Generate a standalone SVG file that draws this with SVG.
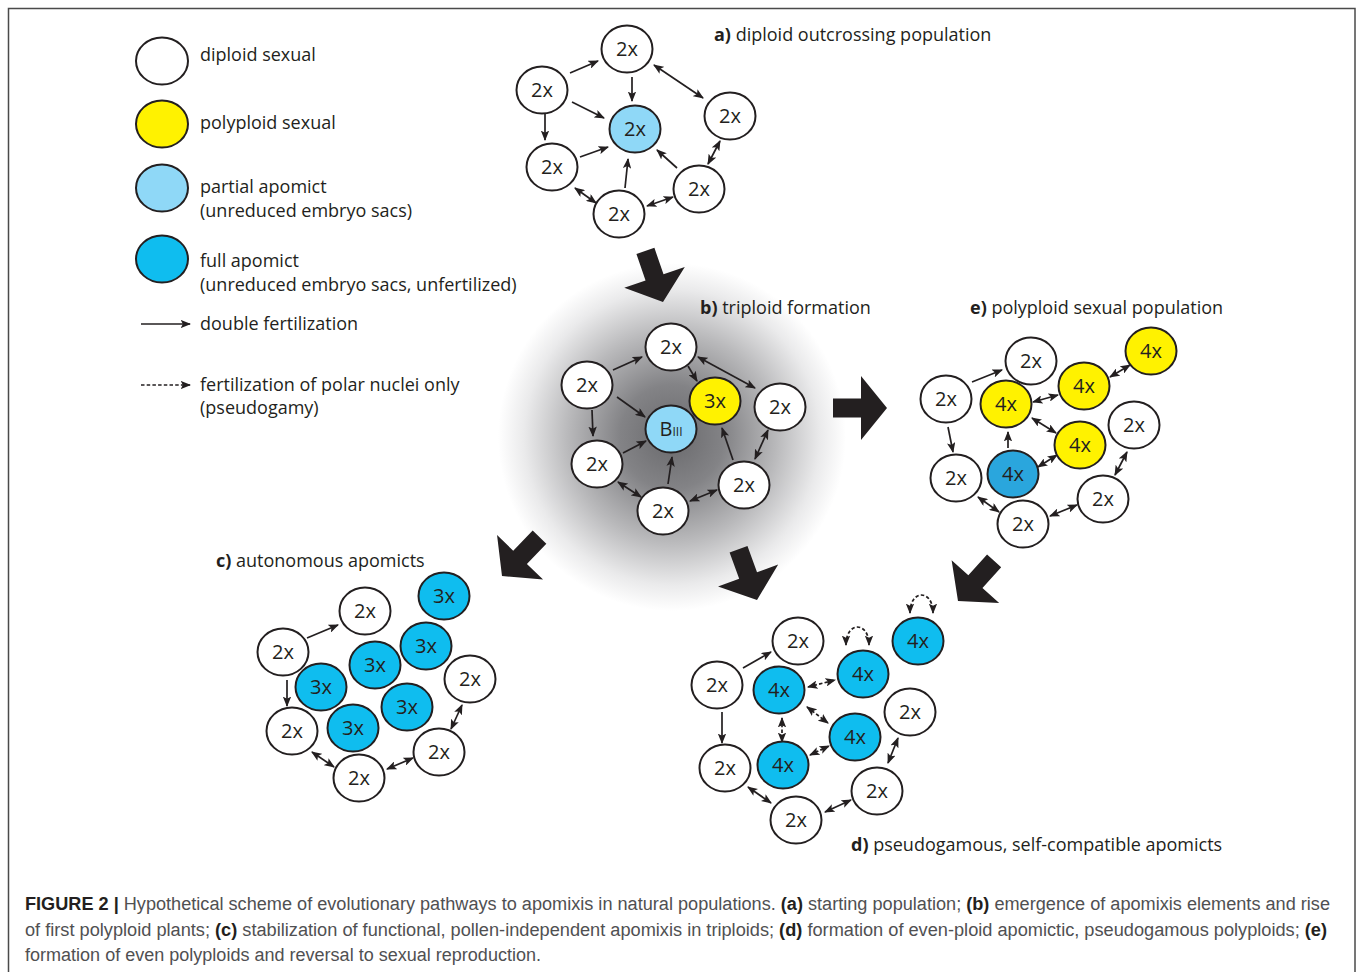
<svg xmlns="http://www.w3.org/2000/svg" width="1358" height="972" viewBox="0 0 1358 972">
<style>
.n ellipse{stroke:#231f20;stroke-width:2}
.w{fill:#ffffff}.y{fill:#fff200}.lb{fill:#8fd8f7}.fb{fill:#0fbdef}.db{fill:#2aa6dd}
.n text{font-family:"Open Sans","Noto Sans",sans-serif;font-size:20px;fill:#231f20;text-anchor:middle}
.lg{font-family:"Open Sans","Noto Sans",sans-serif;font-size:18px;fill:#231f20}
.b{font-weight:700}
.c line,.c path{stroke:#231f20;stroke-width:1.7;fill:none}
.s{marker-end:url(#ah)}
.d{marker-start:url(#ah);marker-end:url(#ah)}
.ds{stroke-dasharray:3.5 2.2}
.cap{font-family:"Liberation Sans",Arial,sans-serif;font-size:18px;fill:#505052}
.capb{font-weight:700;fill:#231f20}
</style>
<defs>
<marker id="ah" viewBox="0 0 10 8" refX="9" refY="4" markerWidth="10.5" markerHeight="8.4" markerUnits="userSpaceOnUse" orient="auto-start-reverse">
<path d="M0,0 L10,4 L0,8 L2.2,4 z" fill="#231f20"/>
</marker>
<radialGradient id="halo" cx="672" cy="437" r="174" gradientUnits="userSpaceOnUse">
<stop offset="0" stop-color="#69696c"/>
<stop offset="0.3" stop-color="#838386"/>
<stop offset="0.6" stop-color="#b9b9bb"/>
<stop offset="0.85" stop-color="#eaeaeb"/>
<stop offset="1" stop-color="#ffffff"/>
</radialGradient>
<polygon id="big" points="-54,-9.5 -26,-9.5 -26,-32 0,0 -26,32 -26,9.5 -54,9.5" fill="#231f20"/>
</defs>
<rect x="0" y="0" width="1358" height="972" fill="#ffffff"/>
<rect x="8.5" y="8.5" width="1346.5" height="1000" fill="none" stroke="#4a4a4a" stroke-width="1.5"/>

<circle cx="672" cy="437" r="174" fill="url(#halo)"/>

<!-- legend -->
<g id="legend">
<g class="n"><ellipse cx="162" cy="61" rx="26" ry="23.5" class="w"/></g>
<g class="n"><ellipse cx="162" cy="124" rx="26" ry="23.5" class="y"/></g>
<g class="n"><ellipse cx="162" cy="188" rx="26" ry="23.5" class="lb"/></g>
<g class="n"><ellipse cx="162" cy="259" rx="26" ry="23.5" class="fb"/></g>
<text class="lg" x="200" y="61">diploid sexual</text>
<text class="lg" x="200" y="129">polyploid sexual</text>
<text class="lg" x="200" y="193">partial apomict</text>
<text class="lg" x="200" y="217">(unreduced embryo sacs)</text>
<text class="lg" x="200" y="267">full apomict</text>
<text class="lg" x="200" y="291">(unreduced embryo sacs, unfertilized)</text>
<text class="lg" x="200" y="330">double fertilization</text>
<text class="lg" x="200" y="391">fertilization of polar nuclei only</text>
<text class="lg" x="200" y="414">(pseudogamy)</text>
<g class="c"><line x1="141" y1="324" x2="190" y2="324" class="s"/><line x1="141" y1="385" x2="190" y2="385" class="s ds"/></g>
</g>

<!-- panel labels -->
<text class="lg" x="714" y="41"><tspan class="b">a)</tspan> diploid outcrossing population</text>
<text class="lg" x="700" y="314"><tspan class="b">b)</tspan> triploid formation</text>
<text class="lg" x="970" y="314"><tspan class="b">e)</tspan> polyploid sexual population</text>
<text class="lg" x="216" y="567"><tspan class="b">c)</tspan> autonomous apomicts</text>
<text class="lg" x="851" y="851"><tspan class="b">d)</tspan> pseudogamous, self-compatible apomicts</text>

<!-- big arrows -->
<g id="bigarrows">
<use href="#big" transform="translate(663,302) rotate(71)"/>
<use href="#big" transform="translate(887,408)"/>
<use href="#big" transform="translate(502,576) rotate(134)"/>
<use href="#big" transform="translate(757,600) rotate(70)"/>
<use href="#big" transform="translate(958,601) rotate(132)"/>
</g>

<!-- connectors -->
<g id="connectors" class="c">
<!-- a -->
<line x1="570" y1="73" x2="598" y2="61" class="s"/>
<line x1="632" y1="77" x2="632" y2="101" class="s"/>
<line x1="572" y1="102" x2="604" y2="118" class="s"/>
<line x1="545" y1="112" x2="545" y2="140" class="s"/>
<line x1="580" y1="157" x2="608" y2="147" class="s"/>
<line x1="625" y1="188" x2="628" y2="159" class="s"/>
<line x1="677" y1="168" x2="657" y2="150" class="s"/>
<line x1="654" y1="65" x2="703" y2="98" class="d"/>
<line x1="720" y1="141" x2="708" y2="164" class="d"/>
<line x1="575" y1="188" x2="596" y2="203" class="d"/>
<line x1="647" y1="206" x2="673" y2="197" class="d"/>
<!-- b -->
<line x1="613" y1="370" x2="642" y2="357" class="s"/>
<line x1="688" y1="366" x2="697" y2="381" class="s"/>
<line x1="617" y1="397" x2="645" y2="417" class="s"/>
<line x1="592" y1="410" x2="593" y2="436" class="s"/>
<line x1="623" y1="453" x2="646" y2="441" class="s"/>
<line x1="668" y1="484" x2="672" y2="457" class="s"/>
<line x1="733" y1="460" x2="722" y2="428" class="s"/>
<line x1="698" y1="357" x2="755" y2="388" class="d"/>
<line x1="768" y1="430" x2="755" y2="459" class="d"/>
<line x1="618" y1="482" x2="641" y2="497" class="d"/>
<line x1="690" y1="501" x2="717" y2="490" class="d"/>
<!-- e -->
<line x1="972" y1="382" x2="1002" y2="370" class="s"/>
<line x1="948" y1="427" x2="953" y2="452" class="s"/>
<line x1="1008" y1="448" x2="1008" y2="432" class="s"/>
<line x1="1033" y1="402" x2="1058" y2="395" class="d"/>
<line x1="1110" y1="377" x2="1130" y2="365" class="d"/>
<line x1="1032" y1="418" x2="1056" y2="433" class="d"/>
<line x1="1038" y1="467" x2="1057" y2="455" class="d"/>
<line x1="1127" y1="452" x2="1115" y2="475" class="d"/>
<line x1="978" y1="497" x2="999" y2="512" class="d"/>
<line x1="1050" y1="516" x2="1077" y2="505" class="d"/>
<!-- c -->
<line x1="307" y1="638" x2="338" y2="625" class="s"/>
<line x1="287" y1="680" x2="287" y2="706" class="s"/>
<line x1="462" y1="705" x2="451" y2="729" class="d"/>
<line x1="312" y1="752" x2="334" y2="767" class="d"/>
<line x1="387" y1="769" x2="413" y2="758" class="d"/>
<!-- d -->
<line x1="743" y1="668" x2="771" y2="652" class="s"/>
<line x1="722" y1="712" x2="722" y2="743" class="s"/>
<line x1="898" y1="738" x2="888" y2="763" class="d"/>
<line x1="748" y1="787" x2="771" y2="803" class="d"/>
<line x1="825" y1="812" x2="851" y2="800" class="d"/>
<line x1="808" y1="687" x2="835" y2="680" class="d ds"/>
<line x1="782" y1="718" x2="782" y2="742" class="d ds"/>
<line x1="807" y1="707" x2="828" y2="723" class="d ds"/>
<line x1="810" y1="755" x2="829" y2="746" class="d ds"/>
<path d="M846,645 C846,621 869,621 869,645" class="d ds"/>
<path d="M910,613 C910,589 933,589 933,613" class="d ds"/>
</g>

<!-- panel a nodes -->
<g id="a1" class="n" transform="translate(627,49)"><ellipse rx="25.5" ry="23.5" class="w"/><text y="7">2x</text></g>
<g id="a2" class="n" transform="translate(542,90)"><ellipse rx="25.5" ry="23.5" class="w"/><text y="7">2x</text></g>
<g id="a3" class="n" transform="translate(635,129)"><ellipse rx="25.5" ry="23.5" class="lb"/><text y="7">2x</text></g>
<g id="a4" class="n" transform="translate(730,116)"><ellipse rx="25.5" ry="23.5" class="w"/><text y="7">2x</text></g>
<g id="a5" class="n" transform="translate(552,167)"><ellipse rx="25.5" ry="23.5" class="w"/><text y="7">2x</text></g>
<g id="a6" class="n" transform="translate(699,189)"><ellipse rx="25.5" ry="23.5" class="w"/><text y="7">2x</text></g>
<g id="a7" class="n" transform="translate(619,214)"><ellipse rx="25.5" ry="23.5" class="w"/><text y="7">2x</text></g>

<!-- panel b nodes -->
<g id="b1" class="n" transform="translate(671,347)"><ellipse rx="25.5" ry="23.5" class="w"/><text y="7">2x</text></g>
<g id="b2" class="n" transform="translate(587,385)"><ellipse rx="25.5" ry="23.5" class="w"/><text y="7">2x</text></g>
<g id="b3" class="n" transform="translate(715,401)"><ellipse rx="25.5" ry="23.5" class="y"/><text y="7">3x</text></g>
<g id="b4" class="n" transform="translate(780,407)"><ellipse rx="25.5" ry="23.5" class="w"/><text y="7">2x</text></g>
<g id="b5" class="n" transform="translate(671,429)"><ellipse rx="25.5" ry="23.5" class="lb"/><text y="7">B<tspan font-size="12">III</tspan></text></g>
<g id="b6" class="n" transform="translate(597,464)"><ellipse rx="25.5" ry="23.5" class="w"/><text y="7">2x</text></g>
<g id="b7" class="n" transform="translate(744,485)"><ellipse rx="25.5" ry="23.5" class="w"/><text y="7">2x</text></g>
<g id="b8" class="n" transform="translate(663,511)"><ellipse rx="25.5" ry="23.5" class="w"/><text y="7">2x</text></g>

<!-- panel e nodes -->
<g id="e1" class="n" transform="translate(1031,361)"><ellipse rx="25.5" ry="23.5" class="w"/><text y="7">2x</text></g>
<g id="e2" class="n" transform="translate(1151,351)"><ellipse rx="25.5" ry="23.5" class="y"/><text y="7">4x</text></g>
<g id="e3" class="n" transform="translate(946,399)"><ellipse rx="25.5" ry="23.5" class="w"/><text y="7">2x</text></g>
<g id="e4" class="n" transform="translate(1006,404)"><ellipse rx="25.5" ry="23.5" class="y"/><text y="7">4x</text></g>
<g id="e5" class="n" transform="translate(1084,386)"><ellipse rx="25.5" ry="23.5" class="y"/><text y="7">4x</text></g>
<g id="e6" class="n" transform="translate(1134,425)"><ellipse rx="25.5" ry="23.5" class="w"/><text y="7">2x</text></g>
<g id="e7" class="n" transform="translate(1080,445)"><ellipse rx="25.5" ry="23.5" class="y"/><text y="7">4x</text></g>
<g id="e8" class="n" transform="translate(1013,474)"><ellipse rx="25.5" ry="23.5" class="db"/><text y="7">4x</text></g>
<g id="e9" class="n" transform="translate(956,478)"><ellipse rx="25.5" ry="23.5" class="w"/><text y="7">2x</text></g>
<g id="e10" class="n" transform="translate(1023,524)"><ellipse rx="25.5" ry="23.5" class="w"/><text y="7">2x</text></g>
<g id="e11" class="n" transform="translate(1103,499)"><ellipse rx="25.5" ry="23.5" class="w"/><text y="7">2x</text></g>

<!-- panel c nodes -->
<g id="c1" class="n" transform="translate(444,596)"><ellipse rx="25.5" ry="23.5" class="fb"/><text y="7">3x</text></g>
<g id="c2" class="n" transform="translate(365,611)"><ellipse rx="25.5" ry="23.5" class="w"/><text y="7">2x</text></g>
<g id="c3" class="n" transform="translate(283,652)"><ellipse rx="25.5" ry="23.5" class="w"/><text y="7">2x</text></g>
<g id="c4" class="n" transform="translate(426,646)"><ellipse rx="25.5" ry="23.5" class="fb"/><text y="7">3x</text></g>
<g id="c5" class="n" transform="translate(375,665)"><ellipse rx="25.5" ry="23.5" class="fb"/><text y="7">3x</text></g>
<g id="c6" class="n" transform="translate(470,679)"><ellipse rx="25.5" ry="23.5" class="w"/><text y="7">2x</text></g>
<g id="c7" class="n" transform="translate(321,687)"><ellipse rx="25.5" ry="23.5" class="fb"/><text y="7">3x</text></g>
<g id="c8" class="n" transform="translate(407,707)"><ellipse rx="25.5" ry="23.5" class="fb"/><text y="7">3x</text></g>
<g id="c9" class="n" transform="translate(292,731)"><ellipse rx="25.5" ry="23.5" class="w"/><text y="7">2x</text></g>
<g id="c10" class="n" transform="translate(353,728)"><ellipse rx="25.5" ry="23.5" class="fb"/><text y="7">3x</text></g>
<g id="c11" class="n" transform="translate(439,752)"><ellipse rx="25.5" ry="23.5" class="w"/><text y="7">2x</text></g>
<g id="c12" class="n" transform="translate(359,778)"><ellipse rx="25.5" ry="23.5" class="w"/><text y="7">2x</text></g>

<!-- panel d nodes -->
<g id="d1" class="n" transform="translate(798,641)"><ellipse rx="25.5" ry="23.5" class="w"/><text y="7">2x</text></g>
<g id="d2" class="n" transform="translate(918,641)"><ellipse rx="25.5" ry="23.5" class="fb"/><text y="7">4x</text></g>
<g id="d3" class="n" transform="translate(717,685)"><ellipse rx="25.5" ry="23.5" class="w"/><text y="7">2x</text></g>
<g id="d4" class="n" transform="translate(779,690)"><ellipse rx="25.5" ry="23.5" class="fb"/><text y="7">4x</text></g>
<g id="d5" class="n" transform="translate(863,674)"><ellipse rx="25.5" ry="23.5" class="fb"/><text y="7">4x</text></g>
<g id="d6" class="n" transform="translate(910,712)"><ellipse rx="25.5" ry="23.5" class="w"/><text y="7">2x</text></g>
<g id="d7" class="n" transform="translate(855,737)"><ellipse rx="25.5" ry="23.5" class="fb"/><text y="7">4x</text></g>
<g id="d8" class="n" transform="translate(725,768)"><ellipse rx="25.5" ry="23.5" class="w"/><text y="7">2x</text></g>
<g id="d9" class="n" transform="translate(783,765)"><ellipse rx="25.5" ry="23.5" class="fb"/><text y="7">4x</text></g>
<g id="d10" class="n" transform="translate(877,791)"><ellipse rx="25.5" ry="23.5" class="w"/><text y="7">2x</text></g>
<g id="d11" class="n" transform="translate(796,820)"><ellipse rx="25.5" ry="23.5" class="w"/><text y="7">2x</text></g>

<!-- caption -->
<text class="cap" x="25" y="910" textLength="1305" lengthAdjust="spacingAndGlyphs"><tspan class="capb">FIGURE 2 |</tspan> Hypothetical scheme of evolutionary pathways to apomixis in natural populations. <tspan class="capb">(a)</tspan> starting population; <tspan class="capb">(b)</tspan> emergence of apomixis elements and rise</text>
<text class="cap" x="25" y="936" textLength="1302" lengthAdjust="spacingAndGlyphs">of first polyploid plants; <tspan class="capb">(c)</tspan> stabilization of functional, pollen-independent apomixis in triploids; <tspan class="capb">(d)</tspan> formation of even-ploid apomictic, pseudogamous polyploids; <tspan class="capb">(e)</tspan></text>
<text class="cap" x="25" y="961" textLength="516" lengthAdjust="spacingAndGlyphs">formation of even polyploids and reversal to sexual reproduction.</text>
</svg>
